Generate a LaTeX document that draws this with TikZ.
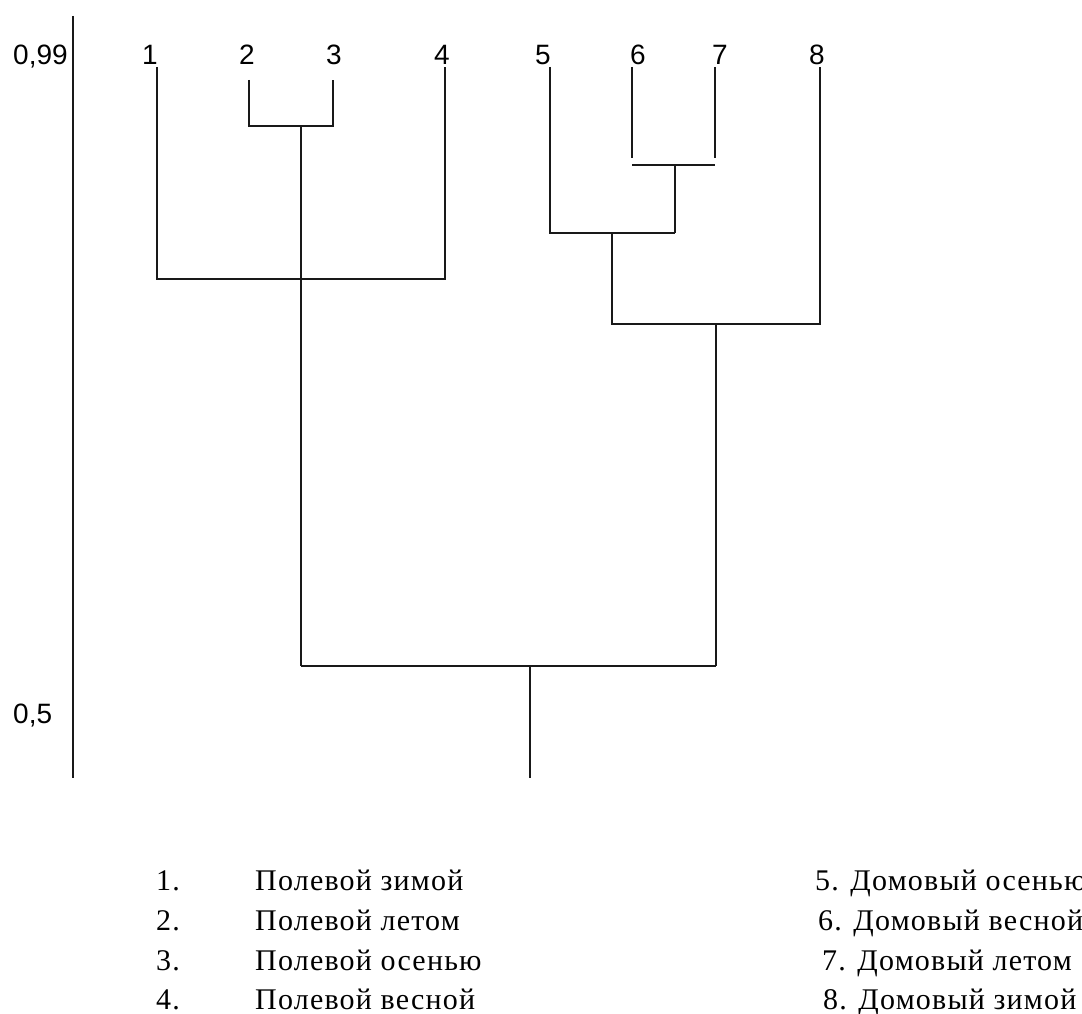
\documentclass[tikz,border=0pt]{standalone}
\usepackage{fontspec}
\setmainfont{Liberation Serif}[LetterSpace=4]
\newfontfamily\axfont{Liberation Sans}
\begin{document}
\begin{tikzpicture}[x=1pt,y=-1pt,
  tree/.style={line width=1.8pt,black!90},
  num/.style={font=\axfont\fontsize{28}{30}\selectfont,inner sep=0pt,anchor=base},
  leg/.style={font=\fontsize{30}{34}\selectfont,inner sep=0pt},
]
\useasboundingbox (0,0) rectangle (1082,1014);
% axis
\coordinate (axtop) at (73,16);
\coordinate (axbot) at (73,778);
\draw[tree] (axtop) -- (axbot);
\node[num,anchor=base west] (t99) at (13,65) {0,99};
\node[num,anchor=base west] (t05) at (13,723) {0,5};
% leaf labels
\node[num] (n1) at (150,65) {1};
\node[num] (n2) at (247,65) {2};
\node[num] (n3) at (334,65) {3};
\node[num] (n4) at (442,65) {4};
\node[num] (n5) at (543,65) {5};
\node[num] (n6) at (638,65) {6};
\node[num] (n7) at (720,65) {7};
\node[num] (n8) at (817,65) {8};
% tree points
\coordinate (a1) at (157,67);  \coordinate (b1) at (157,279);
\coordinate (a4) at (445,67);  \coordinate (b4) at (445,279);
\coordinate (a2) at (249,80);  \coordinate (b2) at (249,126);
\coordinate (a3) at (333,80);  \coordinate (b3) at (333,126);
\coordinate (s23) at (301,126); \coordinate (s23b) at (301,666);
\coordinate (a5) at (550,67);  \coordinate (b5) at (550,233);
\coordinate (a6) at (632,67);  \coordinate (b6) at (632,158);
\coordinate (a7) at (715,67);  \coordinate (b7) at (715,158);
\coordinate (h6) at (632,165); \coordinate (h7) at (715,165);
\coordinate (s67) at (675,165); \coordinate (s67b) at (675,233);
\coordinate (s567) at (612,233); \coordinate (s567b) at (612,324);
\coordinate (a8) at (820,67);  \coordinate (b8) at (820,324);
\coordinate (s58) at (716,324); \coordinate (s58b) at (716,666);
\coordinate (root) at (530,666); \coordinate (rootb) at (530,778);
% connectors
\draw[tree] (a1) -- (b1) -- (b4) -- (a4);
\draw[tree] (a2) -- (b2) -- (b3) -- (a3);
\draw[tree] (s23) -- (s23b);
\draw[tree] (a6) -- (b6);
\draw[tree] (a7) -- (b7);
\draw[tree] (h6) -- (h7);
\draw[tree] (s67) -- (s67b);
\draw[tree] (a5) -- (b5) -- (s67b);
\draw[tree] (s567) -- (s567b) -- (b8) -- (a8);
\draw[tree] (s58) -- (s58b);
\draw[tree] (s23b) -- (s58b);
\draw[tree] (root) -- (rootb);
% legend left
\node[leg,anchor=base east] (k1) at (180,890) {1.};
\node[leg,anchor=base east] (k2) at (180,930) {2.};
\node[leg,anchor=base east] (k3) at (180,970) {3.};
\node[leg,anchor=base east] (k4) at (180,1009) {4.};
\node[leg,anchor=base west] (d1) at (255,890) {Полевой зимой};
\node[leg,anchor=base west] (d2) at (255,930) {Полевой летом};
\node[leg,anchor=base west] (d3) at (255,970) {Полевой осенью};
\node[leg,anchor=base west] (d4) at (255,1009) {Полевой весной};
% legend right
\node[leg,anchor=base west] (d5) at (815,890) {5. Домовый осенью};
\node[leg,anchor=base west] (d6) at (818,930) {6. Домовый весной};
\node[leg,anchor=base west] (d7) at (822,970) {7. Домовый летом};
\node[leg,anchor=base west] (d8) at (823,1009) {8. Домовый зимой};
\end{tikzpicture}
\end{document}
